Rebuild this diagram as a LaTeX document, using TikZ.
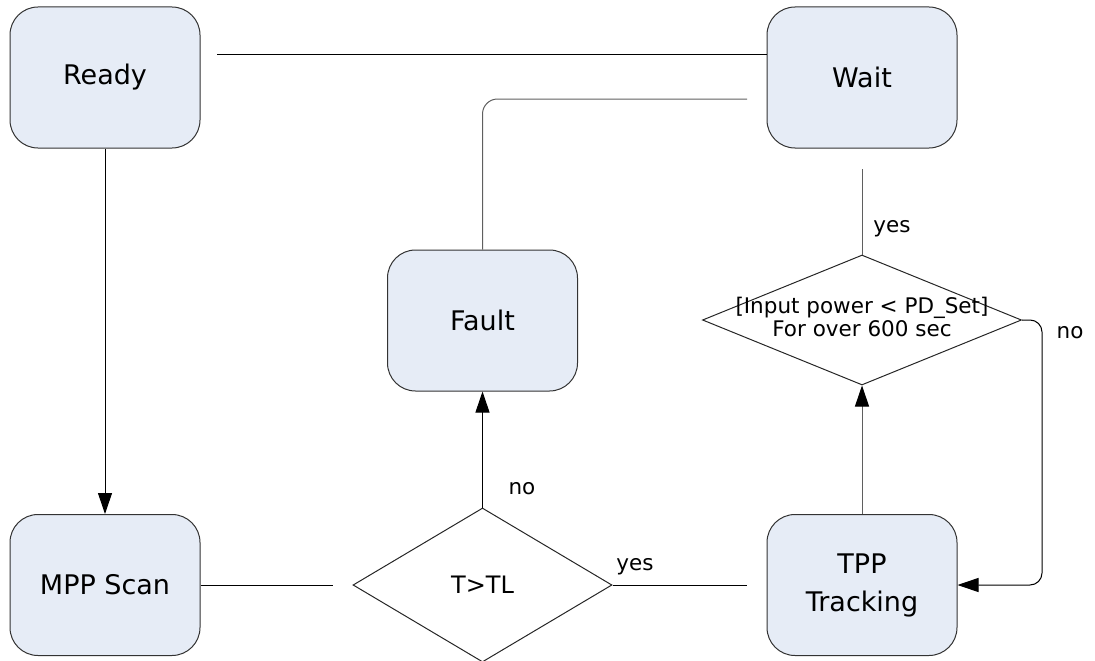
\documentclass[tikz,border=0pt]{standalone}
\usepackage{fontspec}
\setmainfont{DejaVu Sans}
\usetikzlibrary{shapes.geometric,arrows.meta}
\definecolor{statefill}{RGB}{230,236,246}
\definecolor{wiregray}{RGB}{95,95,95}

\begin{document}
\begin{tikzpicture}[x=1pt,y=-1pt,
  state/.style={draw=black!80, line width=1pt, fill=statefill,
    rounded corners=28pt, minimum width=190pt, minimum height=141pt,
    inner sep=0pt, align=center, font=\fontsize{27}{38}\selectfont},
  decision/.style={draw=black!85, line width=1pt, diamond, inner sep=0pt},
  link/.style={line width=1pt, draw=black},
  softlink/.style={line width=1pt, draw=wiregray},
  flow/.style={link, -{Triangle[length=21pt,width=14pt]}},
  lbl/.style={font=\fontsize{21.5}{24}\selectfont, inner sep=0pt, anchor=base},
]
\useasboundingbox (0,0) rectangle (1095,661);

% states
\node[state] (ready) at (105,77.5)  {Ready};
\node[state] (wait)  at (862,77.5)  {Wait};
\node[state] (fault) at (482.5,320.5) {Fault};
\node[state] (mpp)   at (105,585)   {MPP Scan};
\node[state] (tpp)   at (862,585)   {TPP\\Tracking};

% decisions
\node[decision, minimum width=259pt, minimum height=154pt] (temp) at (482.5,585) {};
\node[font=\fontsize{24}{26}\selectfont, inner sep=0pt] (templbl) at (temp.center) {T>TL};
\node[decision, minimum width=319pt, minimum height=130pt] (power) at (862,320) {};
\node[font=\fontsize{21.5}{23}\selectfont, align=center, inner sep=0pt] (powerlbl)
  at ([yshift=3]power.center) {[Input power < PD\_Set]\\For over 600 sec};

% free ends of the open connectors
\coordinate (readyout) at (217,55);
\coordinate (waitout)  at (747,99);
\coordinate (mppout)   at (333,585);
\coordinate (tempout)  at (747,585);
\coordinate (powerin)  at (862,169);
\coordinate (noturn)   at (1042,320);

% connectors
\draw[link] (readyout) -- (readyout -| wait.west);
\draw[softlink, rounded corners=15pt] (waitout) -| (fault.north);
\draw[flow] (ready.south) -- (mpp.north);
\draw[link] (mpp.east) -- (mppout);
\draw[flow] (temp.north) -- (fault.south);
\draw[link] (temp.east) -- (tempout);
\draw[flow, draw=wiregray, -{Triangle[length=21pt,width=14pt,fill=black,color=black]}] (tpp.north) -- (power.south);
\draw[softlink] (power.north) -- (powerin);
\draw[flow, rounded corners=12pt] (power.east) -- (noturn) |- (tpp.east);

% branch labels
\node[lbl] (tempno)   at (522,494) {no};
\node[lbl] (tempyes)  at (635,570) {yes};
\node[lbl] (poweryes) at (892,232) {yes};
\node[lbl] (powerno)  at (1070,338) {no};
\end{tikzpicture}
\end{document}
